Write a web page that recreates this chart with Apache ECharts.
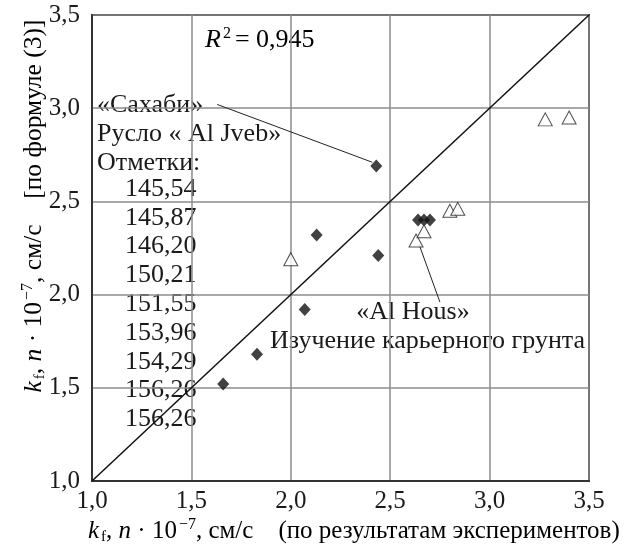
<!DOCTYPE html>
<html>
<head>
<meta charset="utf-8">
<script src="https://cdn.jsdelivr.net/npm/echarts@6/dist/echarts.min.js"></script>
<style>html,body{margin:0;padding:0;background:#fff}#c{width:628px;height:550px}</style>
</head>
<body>
<div id="c"></div>
<script>
// ---- data ----
const tickLabels = ['1,0', '1,5', '2,0', '2,5', '3,0', '3,5'];
const axisMin = 1.0, axisMax = 3.5, axisStep = 0.5;
const diamondX = [1.66, 1.83, 2.07, 2.13, 2.44, 2.43, 2.64, 2.67, 2.70];
const diamondY = [1.52, 1.68, 1.92, 2.32, 2.21, 2.69, 2.40, 2.40, 2.40];
const triangleX = [2.00, 2.63, 2.67, 2.80, 2.84, 3.28, 3.40];
const triangleY = [2.19, 2.29, 2.34, 2.45, 2.46, 2.94, 2.95];
const diagonal = [[1.0, 1.0], [3.5, 3.5]];
const leaderSahabi = [[1.63, 3.02], [2.41, 2.71]];
const leaderAlHous = [[2.645, 2.27], [2.75, 1.96]];
const sahabiLines = ['«Сахаби»', 'Русло « Al Jveb»', 'Отметки:'];
const markLabels = ['145,54', '145,87', '146,20', '150,21', '151,55', '153,96', '154,29', '156,26', '156,26'];
const alHousLines = ['«Al Hous»', 'Изучение карьерного грунта'];
const r2Value = '0,945';

// ---- chart ----
const FF = '"Liberation Serif", "DejaVu Serif", serif';
const FS = 25;     // ticks and axis names
const FA = 26;     // annotations
const TXT = '#1a1a1a';
const chart = echarts.init(document.getElementById('c'), null, {renderer: 'canvas'});

function rich(fs) {
  return {
    k: {fontStyle: 'italic', fontSize: fs, fontFamily: FF, color: TXT},
    n: {fontSize: fs, fontFamily: FF, color: TXT},
    sub: {fontSize: Math.round(fs * 0.6), fontFamily: FF, color: TXT, padding: [13, 0, 0, 2]},
    sup: {fontSize: Math.round(fs * 0.62), fontFamily: FF, color: TXT, padding: [0, 0, 13, 2]}
  };
}

const graphics = [];
// R^2
graphics.push({type: 'text', x: 205, y: 40, style: {
  text: '{k|R}{sup|2 }{n|= ' + r2Value + '}', rich: rich(FA), verticalAlign: 'middle', align: 'left'}});
// Sahabi block
sahabiLines.forEach((t, i) => {
  graphics.push({type: 'text', x: 97, y: 105 + i * 29, style: {
    text: t, fontFamily: FF, fontSize: FA, fill: TXT, verticalAlign: 'middle', align: 'left'}});
});
markLabels.forEach((t, i) => {
  graphics.push({type: 'text', x: 125, y: 189 + i * 28.8, style: {
    text: t, fontFamily: FF, fontSize: FA, fill: TXT, verticalAlign: 'middle', align: 'left'}});
});
// Al Hous block
graphics.push({type: 'text', x: 413, y: 312, style: {
  text: alHousLines[0], fontFamily: FF, fontSize: FA, fill: TXT, verticalAlign: 'middle', align: 'center'}});
graphics.push({type: 'text', x: 270, y: 341, style: {
  text: alHousLines[1], fontFamily: FF, fontSize: FA, fill: TXT, verticalAlign: 'middle', align: 'left'}});
// axis names
graphics.push({type: 'text', x: 88, y: 531, style: {
  text: '{k|k}{sub|f}{n|, }{k|n}{n| · 10}{sup|−7}{n|, см/с    (по результатам экспериментов)}',
  rich: rich(FS), verticalAlign: 'middle', align: 'left'}});
graphics.push({type: 'text', x: 34, y: 206, rotation: Math.PI / 2, style: {
  text: '{k|k}{sub|f}{n|, }{k|n}{n| · 10}{sup|−7}{n|, см/с    [по формуле (3)]}',
  rich: rich(25.5), verticalAlign: 'middle', align: 'center'}});

function fmt(v) {
  const idx = Math.round((v - axisMin) / axisStep);
  return tickLabels[idx] !== undefined ? tickLabels[idx] : '';
}

const axisCommon = {
  type: 'value', min: axisMin, max: axisMax, interval: axisStep,
  axisLine: {show: true, onZero: false, lineStyle: {color: '#333', width: 2}},
  axisTick: {show: false},
  splitLine: {show: true, lineStyle: {color: '#8c8c8c', width: 1.5}},
  axisLabel: {formatter: fmt, fontFamily: FF, fontSize: FS, color: TXT}
};

chart.setOption({
  animation: false,
  backgroundColor: '#fff',
  grid: {left: 92, top: 15, width: 497, height: 466, show: true, borderColor: '#333', borderWidth: 2, containLabel: false},
  xAxis: Object.assign({}, axisCommon, {axisLabel: Object.assign({}, axisCommon.axisLabel, {margin: 8})}),
  yAxis: Object.assign({}, axisCommon, {axisLabel: Object.assign({}, axisCommon.axisLabel, {margin: 12})}),
  graphic: graphics,
  series: [
    {type: 'line', data: diagonal, symbol: 'none', lineStyle: {color: '#111', width: 1.5}, z: 3},
    {type: 'line', data: leaderSahabi, symbol: 'none', lineStyle: {color: '#222', width: 1}, z: 3},
    {type: 'line', data: leaderAlHous, symbol: 'none', lineStyle: {color: '#222', width: 1}, z: 3},
    {type: 'scatter', data: diamondX.map((x, i) => [x, diamondY[i]]), symbol: 'diamond', symbolSize: [12, 13],
     itemStyle: {color: '#111'}, z: 4},
    {type: 'scatter', data: triangleX.map((x, i) => [x, triangleY[i]]), symbol: 'triangle', symbolSize: [14, 13],
     itemStyle: {color: '#fff', borderColor: '#222', borderWidth: 1}, z: 4}
  ]
});
</script>
</body>
</html>
